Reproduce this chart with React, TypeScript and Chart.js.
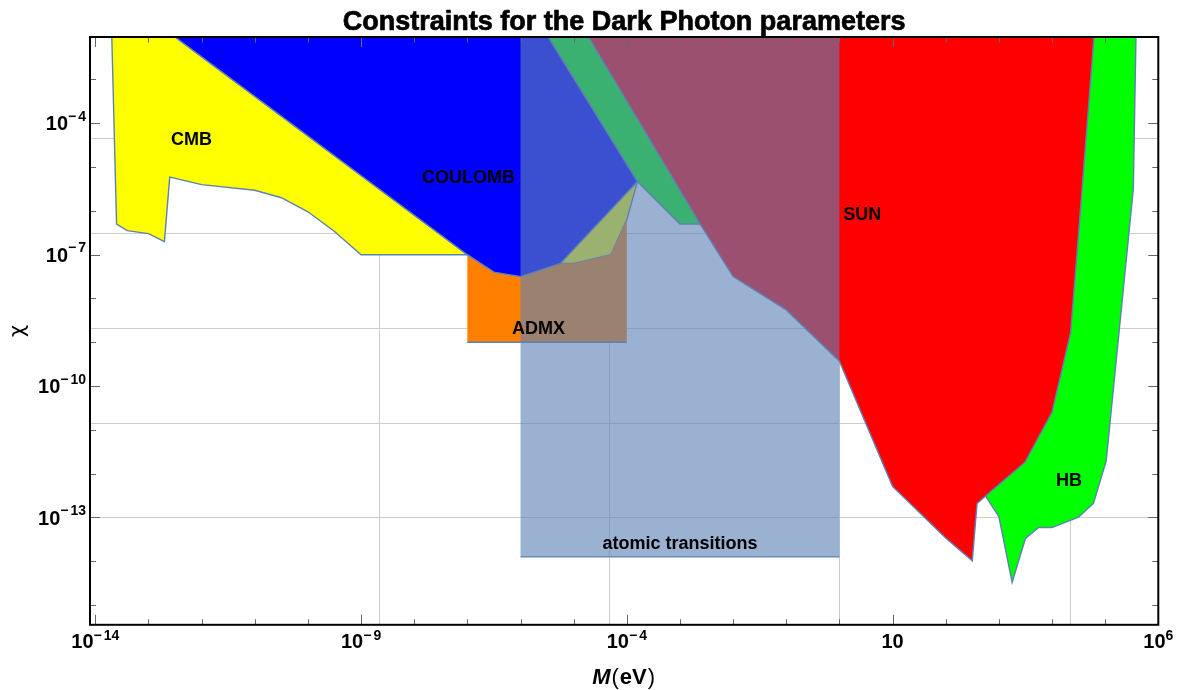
import React, { useEffect, useRef } from "react";
import { Chart, registerables } from "chart.js";

Chart.register(...registerables);

const W = 1177;
const H = 690;

// axis limits, as log10 values
const X_MIN = -14.1;
const X_MAX = 6;
const Y_MIN = -15.45;
const Y_MAX = -2.03;
const TOP = Y_MAX;

// ticks and grid (log10 values)
const X_TICKS = [-14, -13, -12, -11, -10, -9, -8, -7, -6, -5, -4, -3, -2, -1, 0, 1, 2, 3, 4, 5, 6];
const X_LABELS = [-14, -9, -4, 1, 6];
const Y_TICKS = [-15, -14, -13, -12, -11, -10, -9, -8, -7, -6, -5, -4, -3];
const Y_LABELS = [-13, -10, -7, -4];
const X_GRID = [-8.667, -4.333, 0, 4.333];
const Y_GRID = [-13, -10.833, -8.667, -6.5, -4.333];

// regions: log10 M (eV) and log10 chi
const CMB_M = [-13.69, -13.6, -13.4, -13.0, -12.7, -12.6, -12.0, -11.0, -10.5, -10.0, -9.5, -9.0, -7.0, -12.5];
const CMB_CHI = [TOP, -6.3, -6.45, -6.52, -6.7, -5.23, -5.4, -5.53, -5.7, -6.02, -6.47, -7.0, -7.0, TOP];

const COUL_M = [-12.5, -7.0, -6.5, -6.0, -5.25, -3.8, -5.48];
const COUL_CHI = [TOP, -7.0, -7.4, -7.5, -7.2, -5.33, TOP];

const YEL_M = [-5.25, -5.0, -4.3, -4.0, -3.8];
const YEL_CHI = [-7.2, -7.2, -7.0, -6.2, -5.33];

const ADMX_M = [-4.0, -7.0, -7.0, -6.5, -6.0, -5.25, -5.0, -4.3, -4.0];
const ADMX_CHI = [-9.0, -9.0, -7.0, -7.4, -7.5, -7.2, -7.2, -7.0, -6.2];

const ATOM_M = [-6.0, 0.0, 0.0, -6.0];
const ATOM_CHI = [-13.9, -13.9, TOP, TOP];

const HB_M = [-5.48, -3.8, -3.0, -2.62, 2.75, 3.0, 3.25, 3.5, 3.75, 4.0, 4.5, 4.78, 5.02, 5.53, 5.58];
const HB_CHI = [TOP, -5.33, -6.3, -6.3, -12.51, -12.98, -14.48, -13.48, -13.23, -13.23, -12.99, -12.68, -11.71, -5.5, TOP];

const SUN_M = [-4.72, -2.62, -2.0, -1.0, 0.0, 1.0, 2.0, 2.5, 2.59, 2.75, 3.49, 4.0, 4.35, 4.49, 4.79];
const SUN_CHI = [TOP, -6.3, -7.5, -8.26, -9.43, -12.29, -13.47, -13.99, -12.68, -12.51, -11.74, -10.6, -8.78, -6.68, TOP];

// region labels
const LABEL_TEXT = ["CMB", "COULOMB", "ADMX", "SUN", "HB", "atomic transitions"];
const LABEL_M = [-12.19, -6.98, -5.66, 0.43, 4.32, -3.0];
const LABEL_CHI = [-4.34, -5.21, -8.66, -6.06, -12.13, -13.58];

const OUTLINE = "rgb(94,129,181)";

type P = { x: number; y: number };
const pts = (m: number[], c: number[]): P[] => m.map((v, i) => ({ x: Math.pow(10, v), y: Math.pow(10, c[i]) }));
const closed = (m: number[], c: number[]): P[] => {
  const p = pts(m, c);
  p.push(p[0]);
  return p;
};

const fillSet = (data: P[], color: string) => ({
  data,
  fill: "shape",
  backgroundColor: color,
  borderColor: "rgba(0,0,0,0)",
  borderWidth: 0,
  pointRadius: 0,
  tension: 0,
});
const lineSet = (data: P[]) => ({
  data,
  fill: false,
  borderColor: OUTLINE,
  borderWidth: 1.4,
  pointRadius: 0,
  tension: 0,
});

const BASE_FONT = 'bold 20px "Liberation Sans", Arial, sans-serif';
const EXP_FONT = 'bold 14px "Liberation Sans", Arial, sans-serif';

function drawPow(ctx: CanvasRenderingContext2D, e: number, ax: number, baseline: number, align: "center" | "right", raise: number) {
  ctx.textAlign = "left";
  ctx.textBaseline = "alphabetic";
  ctx.font = BASE_FONT;
  const wb = ctx.measureText("10").width;
  let wm = 0;
  let wd = 0;
  const digits = e === 1 ? "" : String(Math.abs(e));
  ctx.font = EXP_FONT;
  if (e < 0) wm = ctx.measureText("\u2212").width + 2;
  if (digits) wd = ctx.measureText(digits).width;
  const total = wb + wm + wd;
  const x0 = align === "center" ? ax - total / 2 : ax - total;
  ctx.font = BASE_FONT;
  ctx.fillText("10", x0, baseline);
  ctx.font = EXP_FONT;
  if (e < 0) ctx.fillText("\u2212", x0 + wb, baseline - raise);
  if (digits) ctx.fillText(digits, x0 + wb + wm, baseline - raise);
}

const decor = {
  id: "decor",
  beforeDatasetsDraw(chart: any) {
    const { ctx, chartArea: a, scales } = chart;
    const x = scales.x;
    const y = scales.y;
    ctx.save();
    ctx.strokeStyle = "#cccccc";
    ctx.lineWidth = 1;
    ctx.beginPath();
    for (const g of X_GRID) {
      const px = Math.round(x.getPixelForValue(Math.pow(10, g))) + 0.5;
      ctx.moveTo(px, a.top);
      ctx.lineTo(px, a.bottom);
    }
    for (const g of Y_GRID) {
      const py = Math.round(y.getPixelForValue(Math.pow(10, g))) + 0.5;
      ctx.moveTo(a.left, py);
      ctx.lineTo(a.right, py);
    }
    ctx.stroke();
    ctx.restore();
  },
  afterDatasetsDraw(chart: any) {
    const { ctx, chartArea: a, scales } = chart;
    const x = scales.x;
    const y = scales.y;
    ctx.save();

    // region labels
    ctx.fillStyle = "#000";
    ctx.font = 'bold 18px "Liberation Sans", Arial, sans-serif';
    ctx.textAlign = "center";
    ctx.textBaseline = "alphabetic";
    LABEL_TEXT.forEach((t, i) => {
      const px = x.getPixelForValue(Math.pow(10, LABEL_M[i]));
      const py = y.getPixelForValue(Math.pow(10, LABEL_CHI[i]));
      ctx.fillText(t, px, py + 6.5);
    });

    // ticks (inward, all four sides)
    ctx.strokeStyle = "#666666";
    ctx.lineWidth = 1;
    ctx.beginPath();
    for (const t of X_TICKS) {
      const px = Math.round(x.getPixelForValue(Math.pow(10, t))) + 0.5;
      const len = X_LABELS.includes(t) ? 10 : 5.5;
      ctx.moveTo(px, a.bottom);
      ctx.lineTo(px, a.bottom - len);
      ctx.moveTo(px, a.top);
      ctx.lineTo(px, a.top + len);
    }
    for (const t of Y_TICKS) {
      const py = Math.round(y.getPixelForValue(Math.pow(10, t))) + 0.5;
      const len = Y_LABELS.includes(t) ? 10 : 6;
      ctx.moveTo(a.left, py);
      ctx.lineTo(a.left + len, py);
      ctx.moveTo(a.right, py);
      ctx.lineTo(a.right - len, py);
    }
    ctx.stroke();

    // frame
    ctx.strokeStyle = "#000";
    ctx.lineWidth = 2;
    ctx.strokeRect(a.left, a.top, a.right - a.left, a.bottom - a.top);

    // tick labels
    ctx.fillStyle = "#000";
    for (const e of X_LABELS) {
      const px = x.getPixelForValue(Math.pow(10, e));
      drawPow(ctx, e, px, a.bottom + 23.5, "center", 8.5);
    }
    for (const e of Y_LABELS) {
      const py = y.getPixelForValue(Math.pow(10, e));
      drawPow(ctx, e, a.left - 4, py + 7.2, "right", 9.5);
    }

    // x axis label: M(eV)
    const parts: [string, string][] = [
      ["M", 'italic bold 22px "Liberation Sans", Arial, sans-serif'],
      ["(", '22px "Liberation Sans", Arial, sans-serif'],
      ["eV", 'bold 22px "Liberation Sans", Arial, sans-serif'],
      [")", '22px "Liberation Sans", Arial, sans-serif'],
    ];
    let tw = 0;
    const ws = parts.map(([s, f]) => {
      ctx.font = f;
      const w = ctx.measureText(s).width + 1;
      tw += w;
      return w;
    });
    let cx = (a.left + a.right) / 2 - tw / 2;
    ctx.textAlign = "left";
    parts.forEach(([s, f], i) => {
      ctx.font = f;
      ctx.fillText(s, cx, 683.5);
      cx += ws[i];
    });

    // y axis label: chi (rotated)
    ctx.save();
    ctx.translate(24, (a.top + a.bottom) / 2);
    ctx.rotate(-Math.PI / 2);
    ctx.textAlign = "center";
    ctx.font = '21px "DejaVu Sans", sans-serif';
    ctx.fillText("\u03C7", 0, 0);
    ctx.restore();

    // title
    ctx.font = 'bold 27px "Liberation Sans", Arial, sans-serif';
    ctx.textAlign = "center";
    ctx.lineWidth = 0.7;
    ctx.strokeStyle = "#000";
    const tx = (a.left + a.right) / 2;
    ctx.fillText("Constraints for the Dark Photon parameters", tx, 29.5);
    ctx.strokeText("Constraints for the Dark Photon parameters", tx, 29.5);

    ctx.restore();
  },
};

export default function App() {
  const ref = useRef<HTMLCanvasElement | null>(null);
  useEffect(() => {
    if (!ref.current) return;
    // bottom -> top
    const layers = [
      fillSet(closed(HB_M, HB_CHI), "#00ff00"),
      lineSet(pts(HB_M.slice(0, 4), HB_CHI.slice(0, 4))),
      lineSet(pts(HB_M.slice(4), HB_CHI.slice(4))),
      fillSet(closed(CMB_M, CMB_CHI), "#ffff00"),
      lineSet(pts(CMB_M, CMB_CHI)),
      fillSet(closed(YEL_M, YEL_CHI), "#ffff00"),
      lineSet(pts(YEL_M, YEL_CHI)),
      fillSet(closed(ADMX_M, ADMX_CHI), "#ff8000"),
      lineSet(pts(ADMX_M.slice(0, 2), ADMX_CHI.slice(0, 2))),
      fillSet(closed(COUL_M, COUL_CHI), "#0000ff"),
      lineSet(pts(COUL_M, COUL_CHI)),
      fillSet(closed(SUN_M, SUN_CHI), "#ff0000"),
      lineSet(pts(SUN_M, SUN_CHI)),
      fillSet(closed(ATOM_M, ATOM_CHI), "rgba(94,129,181,0.62)"),
      lineSet(pts(ATOM_M.slice(0, 2), ATOM_CHI.slice(0, 2))),
    ];
    const n = layers.length;
    const datasets = layers.map((d, i) => ({ ...d, order: n - i }));
    const chart = new Chart(ref.current, {
      type: "line",
      data: { datasets } as any,
      options: {
        animation: false,
        responsive: false,
        maintainAspectRatio: false,
        events: [],
        layout: { padding: { left: 90, right: 18.7, top: 37, bottom: 65.2 } },
        plugins: { legend: { display: false }, tooltip: { enabled: false }, title: { display: false } },
        scales: {
          x: { type: "logarithmic", min: Math.pow(10, X_MIN), max: Math.pow(10, X_MAX), display: false, bounds: "data" },
          y: { type: "logarithmic", min: Math.pow(10, Y_MIN), max: Math.pow(10, Y_MAX), display: false, bounds: "data" },
        },
      } as any,
      plugins: [decor],
    });
    return () => chart.destroy();
  }, []);
  return (
    <div style={{ position: "fixed", left: 0, top: 0, width: W, height: H, background: "#fff" }}>
      <canvas ref={ref} width={W} height={H} style={{ display: "block", width: W, height: H }} />
    </div>
  );
}
